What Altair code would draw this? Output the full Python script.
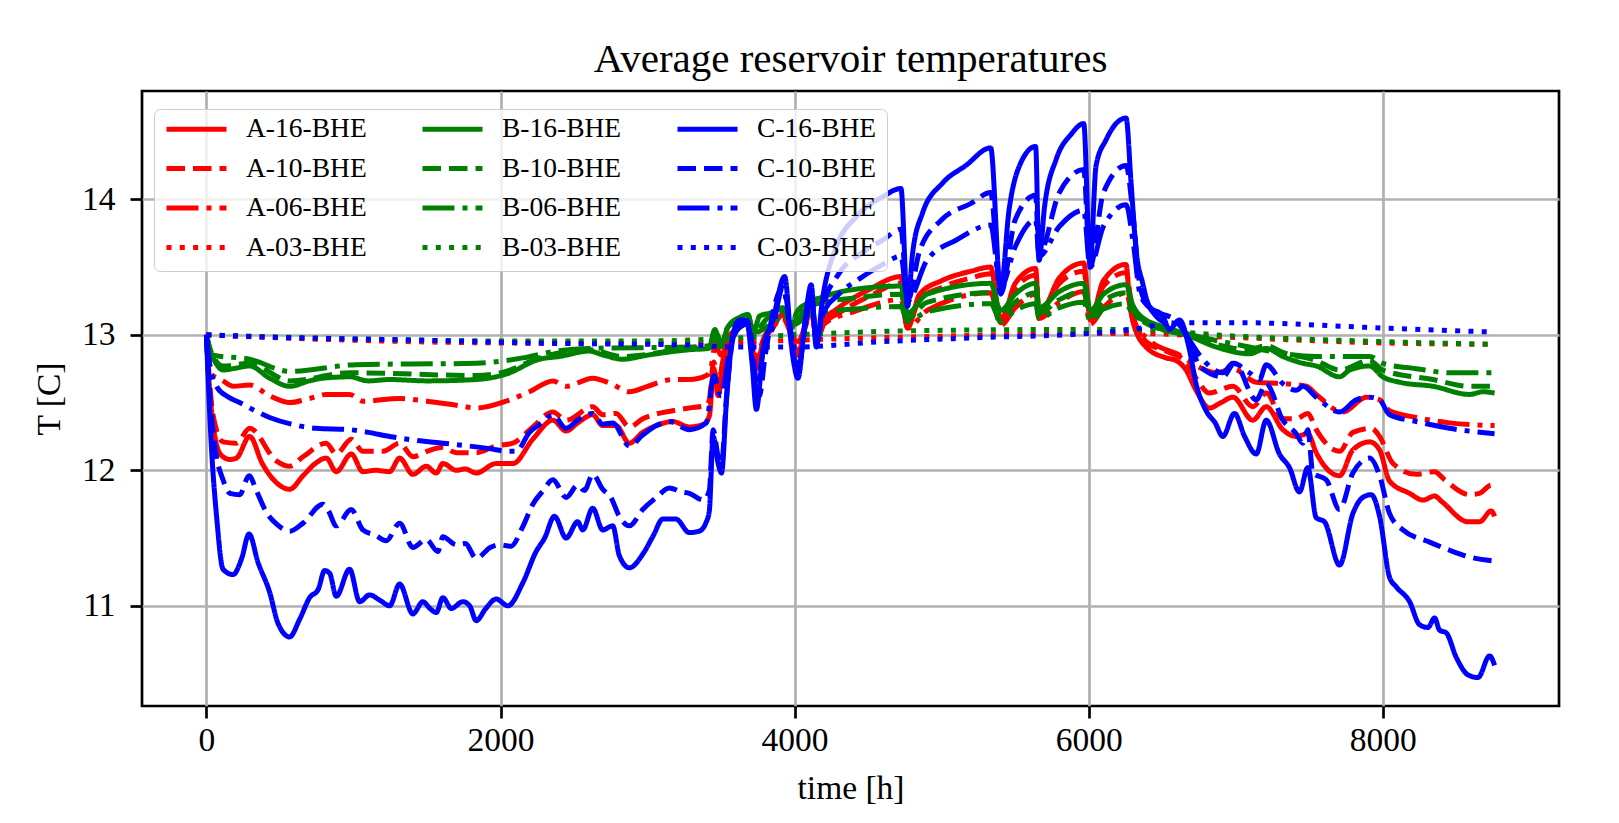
import altair as alt
import pandas as pd

# ---------------------------------------------------------------- data
# Average reservoir temperature [C] over one year of operation [h]

a16_h = [0, 15, 45, 80, 113, 160, 204, 294, 380, 475, 566, 657, 740, 815, 883, 985, 1064, 1150, 1246, 1314,
         1404, 1495, 1563, 1608, 1699, 1760, 1835, 1970, 2084, 2220, 2356, 2446, 2525, 2627, 2695, 2786, 2876,
         2967, 3060, 3171, 3284, 3380, 3420, 3450, 3480, 3510, 3560, 3620, 3680, 3740, 3790, 3850, 3920, 3960,
         4020, 4070, 4113, 4150, 4200, 4300, 4500, 4723, 4768, 4850, 5000, 5200, 5333, 5401, 5500, 5639, 5662,
         5800, 5966, 6011, 6100, 6254, 6277, 6300, 6390, 6526, 6594, 6662, 6730, 6821, 6900, 6980, 7116, 7207,
         7320, 7411, 7490, 7547, 7706, 7796, 7910, 7978, 8046, 8182, 8273, 8352, 8400, 8579, 8658, 8737, 8760]
a16_t = [13.0, 12.7, 12.35, 12.15, 12.10, 12.08, 12.09, 12.25, 12.05, 11.91, 11.86, 11.96, 12.05, 12.09, 11.99,
         12.12, 11.99, 12.0, 11.99, 12.09, 11.97, 12.03, 11.98, 12.05, 12.0, 12.01, 11.98, 12.05, 12.05, 12.23,
         12.37, 12.29, 12.35, 12.41, 12.33, 12.33, 12.20, 12.28, 12.33, 12.36, 12.32, 12.34, 12.40, 12.75, 12.55,
         12.75, 12.95, 13.05, 13.08, 12.75, 12.95, 13.05, 13.15, 13.05, 12.85, 13.05, 13.2, 12.95, 13.1, 13.2,
         13.33, 13.43, 13.05, 13.3, 13.4, 13.47, 13.50, 13.09, 13.38, 13.49, 13.14, 13.42, 13.53, 13.11, 13.4,
         13.52, 13.26, 13.1, 12.91, 12.83, 12.81, 12.74, 12.59, 12.46, 12.5, 12.54, 12.37, 12.47, 12.30, 12.25,
         12.27, 12.13, 11.96, 12.15, 12.21, 12.15, 11.92, 11.83, 11.78, 11.81, 11.77, 11.62, 11.62, 11.70, 11.66]

a10_h = [0, 15, 45, 113, 204, 294, 475, 566, 657, 815, 883, 985, 1064, 1200, 1314, 1404, 1500, 1608, 1700,
         1835, 1970, 2084, 2220, 2356, 2446, 2627, 2695, 2786, 2876, 2967, 3171, 3284, 3400, 3420, 3450, 3480,
         3510, 3560, 3620, 3680, 3740, 3790, 3850, 3920, 3960, 4020, 4070, 4113, 4150, 4200, 4300, 4500, 4723,
         4768, 4850, 5000, 5200, 5333, 5401, 5500, 5639, 5662, 5800, 5966, 6011, 6100, 6254, 6300, 6390, 6526,
         6662, 6730, 6821, 6980, 7116, 7207, 7320, 7411, 7490, 7547, 7706, 7796, 7921, 7978, 8069, 8227, 8352,
         8420, 8590, 8658, 8737, 8760]
a10_t = [13.0, 12.75, 12.41, 12.21, 12.20, 12.31, 12.07, 12.03, 12.10, 12.20, 12.12, 12.23, 12.14, 12.14, 12.20,
         12.10, 12.14, 12.17, 12.13, 12.13, 12.18, 12.2, 12.32, 12.43, 12.37, 12.47, 12.41, 12.42, 12.32, 12.38,
         12.44, 12.46, 12.48, 12.52, 12.8, 12.62, 12.8, 12.98, 13.06, 13.08, 12.78, 12.96, 13.05, 13.13, 13.05,
         12.87, 13.05, 13.17, 12.97, 13.08, 13.16, 13.28, 13.38, 13.08, 13.26, 13.35, 13.42, 13.45, 13.12, 13.34,
         13.44, 13.17, 13.38, 13.47, 13.13, 13.36, 13.46, 13.15, 12.95, 12.88, 12.80, 12.68, 12.57, 12.62, 12.47,
         12.57, 12.38, 12.38, 12.42, 12.30, 12.14, 12.28, 12.31, 12.25, 12.05, 11.97, 11.99, 11.93, 11.82, 11.83,
         11.89, 11.86]

a06_h = [0, 34, 113, 181, 294, 430, 566, 700, 815, 974, 1064, 1314, 1500, 1700, 1835, 2038, 2197, 2356, 2446,
         2627, 2750, 2876, 3000, 3171, 3284, 3400, 3430, 3460, 3500, 3560, 3680, 3740, 3800, 3920, 4020, 4113,
         4150, 4200, 4400, 4723, 4768, 4900, 5333, 5401, 5500, 5639, 5662, 5800, 5966, 6011, 6100, 6254, 6300,
         6413, 6600, 6866, 6980, 7139, 7320, 7479, 7547, 7728, 7887, 7978, 8046, 8227, 8454, 8760]
a06_t = [13.0, 12.71, 12.66, 12.62, 12.63, 12.55, 12.50, 12.53, 12.56, 12.56, 12.51, 12.53, 12.51, 12.48, 12.46,
         12.51, 12.58, 12.66, 12.62, 12.68, 12.64, 12.58, 12.62, 12.67, 12.67, 12.70, 12.75, 12.92, 12.85, 13.0,
         13.08, 12.85, 13.0, 13.12, 12.95, 13.15, 13.0, 13.08, 13.17, 13.26, 13.05, 13.18, 13.31, 13.07, 13.2,
         13.30, 13.12, 13.24, 13.32, 13.08, 13.2, 13.31, 13.12, 12.96, 12.86, 12.72, 12.75, 12.65, 12.64, 12.62,
         12.56, 12.43, 12.54, 12.52, 12.44, 12.39, 12.35, 12.33]

a03_h = [0, 1000, 2000, 3000, 3500, 4000, 5000, 6000, 6300, 7000, 8000, 8760]
a03_t = [13.0, 12.96, 12.94, 12.935, 12.94, 12.96, 12.99, 13.01, 13.01, 12.98, 12.94, 12.93]

b16_h = [0, 23, 60, 113, 180, 294, 430, 566, 700, 793, 974, 1100, 1246, 1500, 1835, 2038, 2265, 2400, 2604,
         2700, 2831, 3000, 3284, 3420, 3458, 3492, 3548, 3627, 3684, 3717, 3763, 3831, 3921, 3980, 4011, 4079,
         4192, 4373, 4723, 4768, 4900, 5333, 5401, 5500, 5639, 5662, 5800, 5966, 6011, 6100, 6254, 6300, 6400,
         6500, 6660, 6866, 7093, 7207, 7320, 7456, 7547, 7706, 7774, 7910, 8000, 8114, 8341, 8590, 8681, 8760]
b16_t = [13.0, 12.89, 12.8, 12.74, 12.75, 12.77, 12.68, 12.62, 12.66, 12.68, 12.69, 12.66, 12.67, 12.66, 12.67,
         12.71, 12.82, 12.84, 12.88, 12.85, 12.82, 12.85, 12.89, 12.90, 13.04, 12.91, 13.06, 13.13, 13.15, 13.01,
         13.14, 13.16, 13.20, 13.05, 13.16, 13.23, 13.28, 13.33, 13.36, 13.16, 13.3, 13.38, 13.18, 13.3, 13.38,
         13.2, 13.32, 13.38, 13.18, 13.3, 13.37, 13.22, 13.1, 13.04, 13.0, 12.91, 12.86, 12.90, 12.84, 12.79,
         12.77, 12.69, 12.74, 12.77, 12.69, 12.65, 12.62, 12.56, 12.58, 12.57]

b10_h = [0, 30, 113, 294, 566, 974, 1835, 2038, 2265, 2604, 2831, 3284, 3420, 3458, 3492, 3548, 3684, 3717,
         3831, 3921, 3980, 4079, 4192, 4400, 4723, 4768, 4900, 5333, 5401, 5500, 5639, 5662, 5800, 5966, 6011,
         6100, 6254, 6300, 6400, 6660, 6866, 7093, 7207, 7320, 7547, 7706, 7910, 8000, 8341, 8590, 8760]
b10_t = [13.0, 12.88, 12.77, 12.79, 12.66, 12.72, 12.70, 12.73, 12.83, 12.89, 12.84, 12.90, 12.91, 13.04, 12.93,
         13.06, 13.14, 13.02, 13.14, 13.18, 13.06, 13.2, 13.24, 13.27, 13.30, 13.12, 13.24, 13.31, 13.14, 13.24,
         13.31, 13.16, 13.26, 13.32, 13.14, 13.25, 13.31, 13.18, 13.08, 13.0, 12.93, 12.89, 12.92, 12.87, 12.81,
         12.74, 12.81, 12.74, 12.67, 12.62, 12.62]

b06_h = [0, 45, 294, 566, 1019, 1835, 2152, 2378, 2604, 3284, 3420, 3458, 3500, 3560, 3680, 3740, 3900, 4000,
         4100, 4200, 4400, 4723, 4768, 4900, 5333, 5401, 5500, 5639, 5662, 5800, 5966, 6011, 6100, 6254, 6300,
         6400, 6700, 7000, 7547, 7910, 8000, 8227, 8454, 8760]
b06_t = [13.0, 12.85, 12.82, 12.73, 12.78, 12.79, 12.83, 12.88, 12.90, 12.91, 12.92, 13.03, 12.95, 13.05, 13.1,
         13.02, 13.12, 13.08, 13.15, 13.17, 13.19, 13.21, 13.1, 13.17, 13.23, 13.1, 13.18, 13.23, 13.12, 13.2,
         13.24, 13.1, 13.19, 13.23, 13.15, 13.1, 13.0, 12.93, 12.84, 12.84, 12.79, 12.75, 12.72, 12.72]

b03_h = [0, 1000, 2000, 3000, 3500, 4000, 4800, 6000, 6300, 7000, 8000, 8760]
b03_t = [13.0, 12.97, 12.955, 12.955, 12.97, 13.0, 13.03, 13.04, 13.04, 12.99, 12.95, 12.93]

c16_h = [0, 30, 70, 113, 181, 240, 290, 351, 430, 487, 566, 634, 702, 760, 804, 838, 883, 974, 1042, 1110, 1180,
         1246, 1314, 1404, 1472, 1520, 1563, 1608, 1665, 1744, 1790, 1835, 1900, 1970, 2050, 2152, 2242, 2300,
         2367, 2446, 2525, 2559, 2627, 2695, 2763, 2808, 2876, 2967, 3040, 3103, 3193, 3284, 3350, 3400, 3420,
         3446, 3480, 3503, 3537, 3582, 3627, 3672, 3710, 3740, 3785, 3850, 3932, 3980, 4023, 4070, 4113, 4147,
         4192, 4283, 4418, 4599, 4723, 4768, 4802, 4870, 5006, 5164, 5333, 5401, 5458, 5526, 5639, 5662, 5700,
         5780, 5880, 5966, 6009, 6050, 6118, 6186, 6254, 6288, 6322, 6367, 6413, 6503, 6549, 6617, 6685, 6730,
         6798, 6860, 6912, 6991, 7060, 7139, 7207, 7297, 7365, 7433, 7490, 7547, 7603, 7706, 7796, 7864, 7921,
         7978, 8046, 8091, 8182, 8250, 8307, 8352, 8386, 8431, 8499, 8579, 8647, 8726, 8760]
c16_t = [13.0, 12.25, 11.65, 11.27, 11.23, 11.35, 11.53, 11.32, 11.10, 10.87, 10.77, 10.90, 11.06, 11.12, 11.26,
         11.24, 11.07, 11.27, 11.03, 11.08, 11.04, 11.0, 11.16, 10.94, 11.03, 10.98, 10.95, 11.06, 10.98, 11.03,
         11.0, 10.89, 10.98, 11.05, 11.0, 11.17, 11.40, 11.50, 11.66, 11.50, 11.62, 11.56, 11.72, 11.56, 11.59,
         11.37, 11.28, 11.38, 11.52, 11.64, 11.64, 11.54, 11.55, 11.62, 11.7, 12.25, 12.05, 11.98, 12.52, 13.01,
         13.11, 13.11, 12.8, 12.45, 12.89, 13.1, 13.43, 12.9, 12.68, 13.1, 13.37, 12.91, 13.28, 13.65, 13.87,
         14.02, 14.08, 13.21, 13.60, 13.90, 14.12, 14.25, 14.38, 13.33, 13.92, 14.24, 14.39, 13.55, 13.95, 14.3,
         14.48, 14.56, 13.51, 14.25, 14.44, 14.56, 14.60, 14.12, 13.63, 13.38, 13.21, 13.14, 13.04, 13.11, 12.89,
         12.64, 12.44, 12.35, 12.25, 12.42, 12.25, 12.12, 12.37, 12.12, 12.02, 11.84, 12.02, 11.65, 11.62, 11.30,
         11.68, 11.80, 11.82, 11.66, 11.21, 11.14, 11.03, 10.86, 10.84, 10.91, 10.82, 10.80, 10.62, 10.49, 10.47,
         10.63, 10.56]

c10_h = [0, 20, 57, 113, 160, 226, 290, 340, 408, 480, 566, 657, 793, 830, 883, 985, 1064, 1150, 1223, 1314, 1404,
         1495, 1574, 1608, 1699, 1760, 1835, 1930, 1993, 2072, 2150, 2220, 2290, 2356, 2446, 2525, 2570, 2627,
         2695, 2750, 2808, 2876, 2967, 3060, 3148, 3230, 3284, 3380, 3420, 3446, 3480, 3503, 3537, 3582, 3627,
         3680, 3760, 3800, 3920, 4020, 4110, 4150, 4192, 4300, 4450, 4600, 4723, 4768, 4850, 5000, 5200, 5333,
         5401, 5500, 5639, 5662, 5800, 5966, 6009, 6100, 6254, 6300, 6350, 6413, 6594, 6685, 6753, 6912, 6991,
         7139, 7207, 7320, 7411, 7456, 7490, 7524, 7615, 7706, 7796, 7910, 7978, 8046, 8137, 8318, 8454, 8590,
         8760]
c10_t = [13.0, 12.6, 12.18, 11.93, 11.83, 11.82, 11.96, 11.85, 11.69, 11.60, 11.55, 11.61, 11.75, 11.70, 11.59,
         11.71, 11.56, 11.52, 11.48, 11.61, 11.43, 11.49, 11.40, 11.51, 11.45, 11.46, 11.35, 11.43, 11.45, 11.44,
         11.58, 11.75, 11.85, 11.93, 11.80, 11.89, 11.85, 11.97, 11.86, 11.80, 11.66, 11.59, 11.71, 11.80, 11.87,
         11.84, 11.83, 11.78, 11.85, 12.3, 12.1, 12.05, 12.55, 12.98, 13.08, 13.1, 12.55, 12.85, 13.35, 12.75,
         13.3, 12.95, 13.2, 13.45, 13.6, 13.7, 13.78, 13.25, 13.62, 13.85, 13.97, 14.05, 13.3, 13.85, 14.03, 13.6,
         14.05, 14.22, 13.5, 14.05, 14.25, 13.9, 13.35, 13.2, 13.10, 12.96, 12.77, 12.69, 12.79, 12.52, 12.64,
         12.37, 12.27, 12.20, 12.30, 11.98, 11.93, 11.71, 11.98, 12.09, 11.96, 11.68, 11.56, 11.47, 11.41, 11.36,
         11.33]

c06_h = [0, 20, 68, 150, 226, 330, 430, 580, 747, 974, 1100, 1246, 1430, 1608, 1780, 1925, 2050, 2106, 2197, 2280,
         2356, 2446, 2525, 2627, 2695, 2763, 2876, 2967, 3060, 3148, 3284, 3400, 3450, 3500, 3560, 3620, 3680,
         3740, 3790, 3850, 3920, 3980, 4023, 4070, 4113, 4150, 4192, 4300, 4450, 4600, 4723, 4768, 4900, 5100,
         5333, 5401, 5500, 5639, 5662, 5800, 5966, 6009, 6100, 6254, 6300, 6350, 6413, 6500, 6600, 6685, 6753,
         6912, 6980, 7093, 7161, 7207, 7320, 7411, 7456, 7547, 7706, 7819, 7910, 7978, 8046, 8227, 8454, 8760]
c06_t = [13.0, 12.8, 12.62, 12.54, 12.50, 12.44, 12.39, 12.34, 12.31, 12.30, 12.28, 12.25, 12.22, 12.20, 12.18,
         12.16, 12.14, 12.14, 12.28, 12.35, 12.41, 12.31, 12.37, 12.42, 12.34, 12.35, 12.18, 12.26, 12.33, 12.36,
         12.30, 12.35, 12.7, 12.55, 12.9, 13.05, 13.08, 12.6, 12.9, 13.05, 13.35, 12.95, 12.75, 13.05, 13.3, 12.95,
         13.15, 13.3, 13.42, 13.52, 13.58, 13.25, 13.55, 13.7, 13.81, 13.35, 13.65, 13.85, 13.58, 13.8, 13.92,
         13.5, 13.8, 13.96, 13.7, 13.3, 13.2, 13.1, 13.08, 12.96, 12.85, 12.72, 12.79, 12.72, 12.67, 12.78, 12.64,
         12.59, 12.62, 12.54, 12.43, 12.52, 12.54, 12.52, 12.41, 12.36, 12.31, 12.27]

c03_h = [0, 500, 1000, 1500, 2000, 2500, 3000, 3400, 3500, 4000, 4600, 5280, 6000, 6300, 6600, 7000, 8000, 8760]
c03_t = [13.0, 12.98, 12.97, 12.96, 12.945, 12.935, 12.93, 12.92, 12.91, 12.91, 12.95, 12.98, 13.01, 13.04, 13.09,
         13.09, 13.05, 13.02]

# plotting order (A drawn first, C on top); the legend is filled column by column
series_names = ["A-16-BHE", "A-10-BHE", "A-06-BHE", "A-03-BHE",
                "B-16-BHE", "B-10-BHE", "B-06-BHE", "B-03-BHE",
                "C-16-BHE", "C-10-BHE", "C-06-BHE", "C-03-BHE"]
series_data = [(a16_h, a16_t), (a10_h, a10_t), (a06_h, a06_t), (a03_h, a03_t),
               (b16_h, b16_t), (b10_h, b10_t), (b06_h, b06_t), (b03_h, b03_t),
               (c16_h, c16_t), (c10_h, c10_t), (c06_h, c06_t), (c03_h, c03_t)]

case_colors = {"A": "#ff0000", "B": "#008000", "C": "#0000ff"}
dash_styles = {"16": [1, 0], "10": [18.5, 8], "06": [32, 8, 5, 8], "03": [5, 8.3]}

rows = []
for name, (hours, temps) in zip(series_names, series_data):
    for h, t in zip(hours, temps):
        rows.append({"series": name, "time": h, "T": t})
df = pd.DataFrame(rows)

FONT = "Liberation Serif"

color_scale = alt.Scale(domain=series_names, range=[case_colors[n[0]] for n in series_names])
dash_scale = alt.Scale(domain=series_names, range=[dash_styles[n[2:4]] for n in series_names])
legend = alt.Legend(title=None, orient="none", legendX=12, legendY=18, columns=3)

x_enc = alt.X("time:Q", title="time [h]",
              scale=alt.Scale(domain=[-438, 9198], nice=False, zero=False),
              axis=alt.Axis(values=[0, 2000, 4000, 6000, 8000], format="d",
                            labelPadding=6, titleY=92, titleBaseline="alphabetic"))
y_enc = alt.Y("T:Q", title="T [C]",
              scale=alt.Scale(domain=[10.26, 14.80], nice=False, zero=False),
              axis=alt.Axis(values=[11, 12, 13, 14], format="d", labelPadding=15,
                            titleX=-83, titleY=307.5, titleBaseline="alphabetic",
                            titleAngle=270, titleAlign="center"))

layers = []
for name in series_names:
    layers.append(
        alt.Chart(df)
        .transform_filter(alt.datum.series == name)
        .mark_line(strokeWidth=5, strokeJoin="round", strokeCap="butt", interpolate="monotone")
        .encode(
            x=x_enc,
            y=y_enc,
            color=alt.Color("series:N", scale=color_scale, legend=legend),
            strokeDash=alt.StrokeDash("series:N", scale=dash_scale, legend=legend),
            order="time:Q",
        )
    )

chart = (
    alt.layer(*layers)
    .properties(
        width=1417,
        height=615,
        autosize=alt.AutoSizeParams(type="none"),
        padding={"left": 142, "top": 91, "right": 60, "bottom": 117},
        title=alt.TitleParams("Average reservoir temperatures", font=FONT, fontSize=41,
                              fontWeight="normal", color="black", anchor="middle",
                              frame="group", baseline="alphabetic", offset=-21.5),
    )
    .configure_view(stroke="black", strokeWidth=2.7)
    .configure_axis(
        domain=False,
        grid=True, gridColor="#b0b0b0", gridWidth=2.7,
        ticks=True, tickSize=12, tickWidth=2.7, tickColor="black",
        labelFont=FONT, labelFontSize=33.5, labelColor="black",
        titleFont=FONT, titleFontSize=33.5, titleFontWeight="normal", titleColor="black",
    )
    .configure_legend(
        symbolType="stroke", symbolSize=3600, symbolStrokeWidth=5,
        clipHeight=20, rowPadding=11.5, columnPadding=53, labelOffset=17,
        labelFont=FONT, labelFontSize=27.5, labelColor="black", labelLimit=400,
        padding=10, fillColor="rgba(255,255,255,0.8)", strokeColor="#cccccc",
        cornerRadius=6,
    )
)

chart.save("out.html", embed_options={"renderer": "svg", "actions": False})
